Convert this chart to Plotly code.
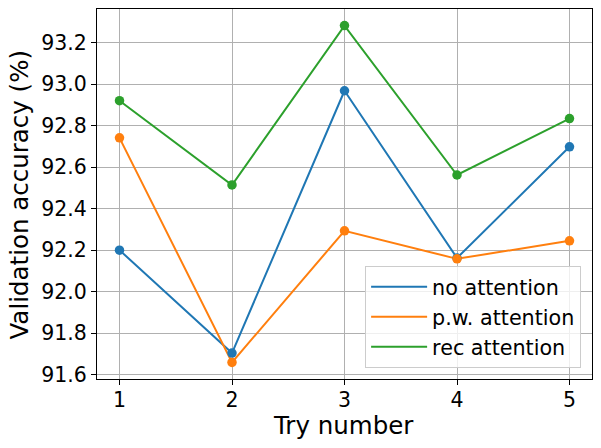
import plotly.graph_objects as go

tries = [1, 2, 3, 4, 5]
no_attention = [92.20, 91.704, 92.968, 92.162, 92.698]
pw_attention = [92.741, 91.659, 92.293, 92.158, 92.245]
rec_attention = [92.920, 92.514, 93.282, 92.562, 92.834]
y_ticks = [91.6, 91.8, 92.0, 92.2, 92.4, 92.6, 92.8, 93.0, 93.2]

series = [
    ("no attention", no_attention, "#1f77b4"),
    ("p.w. attention", pw_attention, "#ff7f0e"),
    ("rec attention", rec_attention, "#2ca02c"),
]

fig = go.Figure()
for name, vals, col in series:
    fig.add_trace(go.Scatter(x=tries, y=vals, mode="lines", name=name,
                             line=dict(color=col, width=2)))
for name, vals, col in series:
    fig.add_trace(go.Scatter(x=tries, y=vals, mode="markers", showlegend=False,
                             marker=dict(color=col, size=9.5, line=dict(width=0))))

font = "DejaVu Sans, sans-serif"
axis_common = dict(showline=True, linecolor="black", linewidth=1, mirror=True,
                   ticks="outside", ticklen=5, tickcolor="black", tickwidth=1,
                   showgrid=True, gridcolor="#b0b0b0", gridwidth=1, zeroline=False,
                   automargin=False,
                   tickfont=dict(family=font, size=20.5, color="black"))

fig.update_layout(
    width=601, height=448,
    margin=dict(l=97, r=9, t=9, b=69),
    paper_bgcolor="white", plot_bgcolor="white",
    font=dict(family=font, color="black"),
    xaxis=dict(range=[0.8, 5.2], tickvals=tries, ticktext=[str(t) for t in tries],
               ticklabelstandoff=-3, **axis_common),
    yaxis=dict(range=[91.579, 93.362], tickvals=y_ticks,
               ticktext=[f"{v:.1f}" for v in y_ticks],
               **axis_common),
    legend=dict(x=0.978, y=0.03, xanchor="right", yanchor="bottom",
                bgcolor="rgba(255,255,255,0.8)", bordercolor="#cccccc", borderwidth=1,
                itemwidth=56,
                font=dict(family=font, size=20.7, color="black")),
    showlegend=True,
    annotations=[
        dict(text="Try number", xref="paper", yref="paper", x=0.497, y=-0.125,
             xanchor="center", yanchor="middle", showarrow=False,
             font=dict(family=font, size=24.5, color="black")),
        dict(text="Validation accuracy (%)", xref="paper", yref="paper", x=-0.1566, y=0.5,
             xanchor="center", yanchor="middle", textangle=-90, showarrow=False,
             font=dict(family=font, size=24.5, color="black")),
    ],
)

fig.write_html("out.html", config={"displayModeBar": False})

with open("out.html", "r", encoding="utf-8") as f:
    html = f.read()
html = html.replace("<head>", "<head><style>html,body{margin:0;padding:0;overflow:hidden;}</style>", 1)
with open("out.html", "w", encoding="utf-8") as f:
    f.write(html)
